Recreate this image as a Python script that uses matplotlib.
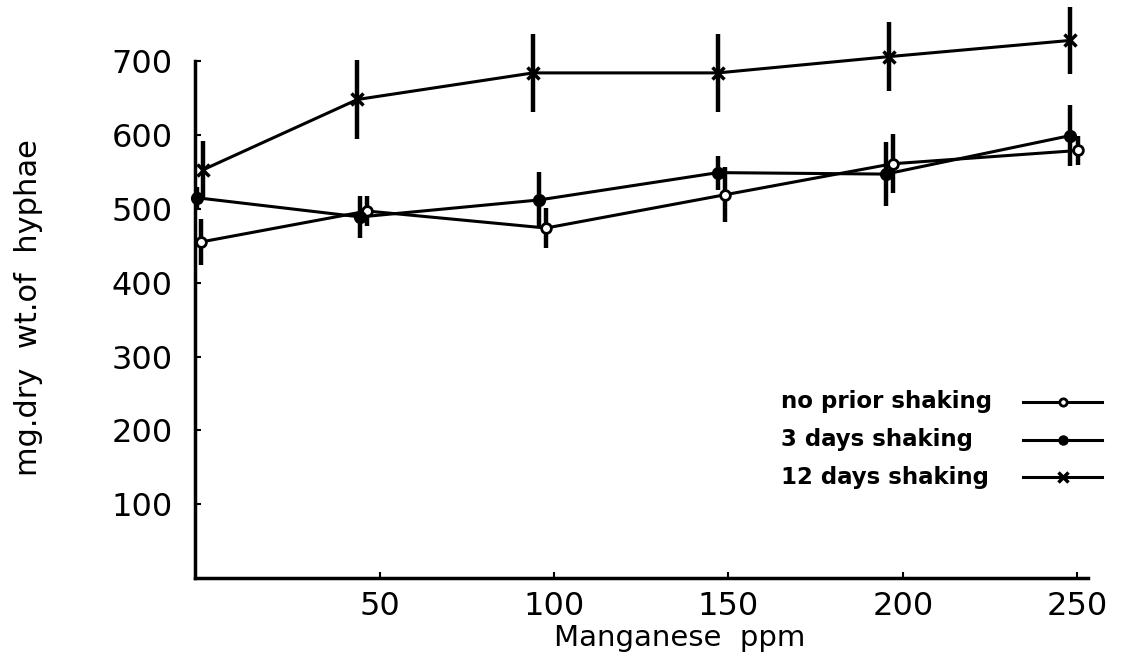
import numpy as np
import matplotlib
matplotlib.use("Agg")
import matplotlib.pyplot as plt

# ========== DATA ==========
LABELS = ["no prior shaking", "3 days shaking", "12 days shaking"]

mn_none = [-1.4, 46.4, 97.7, 149.0, 197.1, 250.4]
wt_none = [455, 497, 474, 519, 561, 579]
err_none = [31, 20, 27, 37, 40, 20]

mn_3d = [-2.5, 44.4, 95.7, 147.0, 195.1, 247.9]
wt_3d = [515, 489, 512, 549, 547, 599]
err_3d = [15, 29, 38, 23, 43, 41]

mn_12d = [-0.6, 43.6, 94.0, 147.0, 196.0, 248.1]
wt_12d = [553, 648, 684, 684, 706, 728]
err_12d = [39, 54, 53, 53, 47, 45]

X_TICKS = [50, 100, 150, 200, 250]
Y_TICKS = [100, 200, 300, 400, 500, 600, 700]
# ================================================

plt.rcParams["font.family"] = ["DejaVu Sans"]

fig = plt.figure(figsize=(11.4, 6.6), dpi=100)
ax = fig.add_axes([0.171, 0.124, 0.783, 0.873])

series = [
    (mn_none, wt_none, err_none, dict(marker="o", markerfacecolor="white", markersize=7, markeredgewidth=2)),
    (mn_3d, wt_3d, err_3d, dict(marker="o", markerfacecolor="black", markersize=8, markeredgewidth=1.5)),
    (mn_12d, wt_12d, err_12d, dict(marker="x", markersize=9, markeredgewidth=2.5)),
]

for x, y, e, mk in series:
    ax.errorbar(x, y, yerr=e, color="black", linewidth=2.2, elinewidth=3.2,
                capsize=0, markeredgecolor="black", clip_on=False, zorder=3, **mk)

ax.set_xlim(-3, 253)
ax.set_ylim(0, 780)
ax.spines["top"].set_visible(False)
ax.spines["right"].set_visible(False)
ax.spines["left"].set_bounds(0, 700)
ax.spines["left"].set_linewidth(2.5)
ax.spines["bottom"].set_linewidth(2.5)

ax.set_xticks(X_TICKS)
ax.set_xticklabels([str(v) for v in X_TICKS])
ax.set_yticks(Y_TICKS)
ax.set_yticklabels([str(v) for v in Y_TICKS])
ax.tick_params(axis="both", direction="in", length=4, width=1.5, labelsize=23)
ax.tick_params(axis="y", pad=16)
ax.tick_params(axis="x", pad=9)

ax.set_xlabel("Manganese  ppm", fontsize=21)
ax.xaxis.set_label_coords(0.543, -0.08)
ax.set_ylabel("mg.dry  wt.of  hyphae", fontsize=22)
ax.yaxis.set_label_coords(-0.17, 0.47)

# hand-made legend: text left, line sample right
leg_y = [0.306, 0.240, 0.175]
for (x, y, e, mk), lab, ly in zip(series, LABELS, leg_y):
    ax.text(0.657, ly, lab, transform=ax.transAxes, fontsize=16.5, fontweight="bold",
            va="center", ha="left")
    ax.plot([0.928, 1.016], [ly, ly], transform=ax.transAxes, color="black",
            linewidth=2.2, clip_on=False)
    small = dict(mk)
    small["markersize"] = mk["markersize"] * 0.75
    ax.plot([0.972], [ly], transform=ax.transAxes, color="black", linestyle="none",
            markeredgecolor="black", clip_on=False, **small)

fig.savefig("out.png", dpi=100)
